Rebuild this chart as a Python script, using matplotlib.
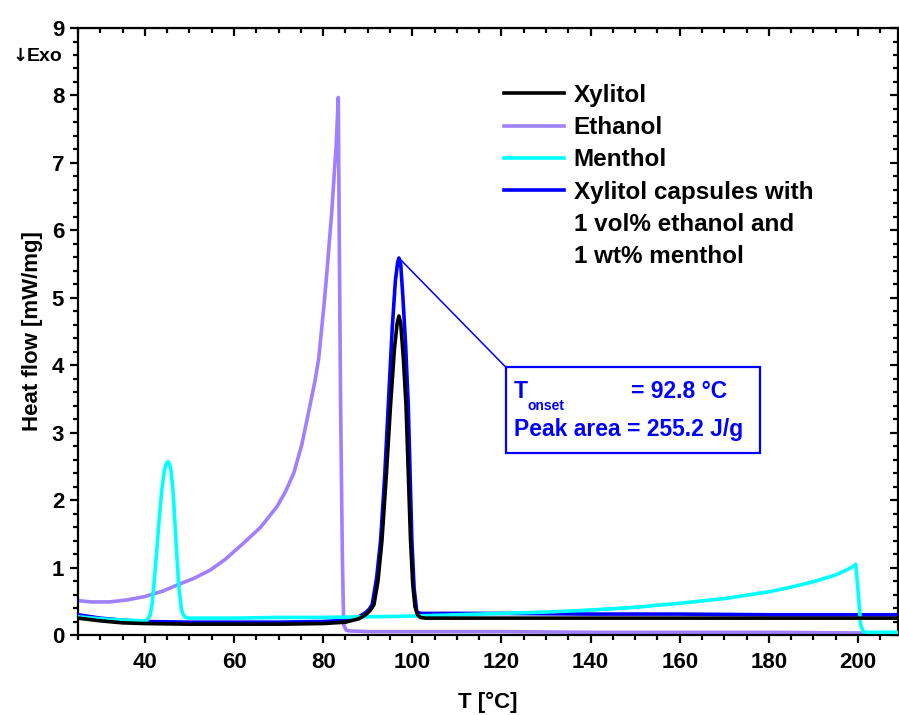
import matplotlib
matplotlib.use('Agg')
import matplotlib.pyplot as plt
from matplotlib.ticker import MultipleLocator
from matplotlib.patches import Rectangle

plt.rcParams['font.family'] = ['Liberation Sans', 'DejaVu Sans']
plt.rcParams['font.weight'] = 'bold'

# DSC heat flow curves, T in degC, heat flow in mW/mg
t_xyl = [25, 30, 35, 40, 50, 60, 70, 80, 85, 88, 89.5, 90.5, 91.4, 92.3, 93.2, 94.2, 95.1, 96.0,
         96.6, 97.0, 97.4, 98.0, 98.6, 99.1, 99.6, 100.1, 100.6, 101.2, 101.8, 103, 110, 120, 140,
         160, 180, 200, 209]
hf_xyl = [0.25, 0.21, 0.18, 0.17, 0.16, 0.16, 0.16, 0.17, 0.19, 0.24, 0.30, 0.36, 0.45, 0.80, 1.41,
          2.40, 3.39, 4.25, 4.62, 4.73, 4.62, 4.10, 3.39, 2.40, 1.41, 0.75, 0.42, 0.30, 0.26, 0.25,
          0.25, 0.25, 0.25, 0.25, 0.25, 0.25, 0.25]

t_eth = [25, 28, 32, 36, 40, 44, 47.2, 51, 54.6, 58, 62.1, 66, 69.6, 71.5, 73.4, 75.2, 77.0, 78.2,
         79.0, 80.2, 80.8, 81.3, 81.9, 82.4, 82.9, 83.4, 83.6, 83.9, 84.3, 84.6, 85.2, 86, 90, 100,
         120, 140, 160, 180, 200, 209]
hf_eth = [0.51, 0.49, 0.49, 0.52, 0.57, 0.65, 0.74, 0.84, 0.96, 1.12, 1.36, 1.60, 1.90, 2.12, 2.40,
          2.82, 3.39, 3.78, 4.10, 4.90, 5.35, 5.76, 6.25, 6.75, 7.24, 7.97, 6.00, 3.50, 1.20, 0.15,
          0.07, 0.06, 0.05, 0.05, 0.05, 0.04, 0.04, 0.04, 0.03, 0.03]

t_men = [25, 30, 35, 40, 40.5, 41.2, 41.6, 42.0, 42.6, 43.2, 43.8, 44.4, 44.8, 45.2, 45.6, 45.9,
         46.3, 46.7, 47.2, 47.6, 48.2, 48.6, 49.1, 50, 60, 70, 80, 90, 100, 110, 120, 130, 140, 150,
         160, 170, 180, 185, 190, 195, 197, 198.5, 199.5, 200.1, 200.6, 201.2, 202, 209]
hf_men = [0.27, 0.24, 0.22, 0.21, 0.22, 0.30, 0.45, 0.72, 1.20, 1.71, 2.15, 2.45, 2.54, 2.57, 2.52,
          2.42, 2.15, 1.71, 1.15, 0.72, 0.38, 0.30, 0.26, 0.25, 0.25, 0.26, 0.26, 0.27, 0.28, 0.30,
          0.32, 0.34, 0.37, 0.41, 0.47, 0.54, 0.64, 0.71, 0.79, 0.89, 0.95, 1.00, 1.05, 0.60, 0.15,
          0.05, 0.04, 0.04]

t_cap = [25, 30, 35, 40, 50, 60, 70, 80, 85, 88, 89.5, 90.3, 91.0, 92.0, 92.9, 93.8, 94.6, 95.5,
         96.2, 96.7, 97.0, 97.4, 97.9, 98.5, 99.1, 99.5, 99.9, 100.4, 101.0, 102, 110, 120, 140,
         160, 180, 200, 209]
hf_cap = [0.30, 0.25, 0.22, 0.20, 0.19, 0.19, 0.19, 0.20, 0.22, 0.27, 0.33, 0.38, 0.45, 0.85, 1.41,
          2.35, 3.39, 4.55, 5.25, 5.52, 5.59, 5.50, 5.00, 4.30, 3.39, 2.40, 1.41, 0.70, 0.34, 0.32,
          0.32, 0.32, 0.31, 0.31, 0.30, 0.30, 0.30]

labels = ['Xylitol', 'Ethanol', 'Menthol', 'Xylitol capsules with']
label_cont = ['1 vol% ethanol and', '1 wt% menthol']
colors = ['black', '#a080ff', '#00ffff', '#0000ff']

t_onset = 92.8
peak_area = 255.2

fig = plt.figure(figsize=(8.99, 7.15), dpi=100)
ax = fig.add_axes([0.0868, 0.1119, 0.9122, 0.8489])

lw = 2.6
ax.plot(t_xyl, hf_xyl, color=colors[0], lw=lw, label=labels[0], zorder=5)
ax.plot(t_eth, hf_eth, color=colors[1], lw=lw, label=labels[1], zorder=2)
ax.plot(t_men, hf_men, color=colors[2], lw=lw, label=labels[2], zorder=4)
ax.plot(t_cap, hf_cap, color=colors[3], lw=lw, label=labels[3], zorder=3)

ax.set_xlim(25, 209)
ax.set_ylim(0, 9)
ax.xaxis.set_major_locator(MultipleLocator(20))
ax.xaxis.set_minor_locator(MultipleLocator(5))
ax.yaxis.set_major_locator(MultipleLocator(1))
ax.yaxis.set_minor_locator(MultipleLocator(0.2))
ax.tick_params(which='both', direction='out', width=1.6, labelsize=16)
ax.tick_params(which='major', length=6)
ax.tick_params(which='minor', length=3.5)
ax.tick_params(axis='x', pad=6)
ax.tick_params(axis='y', pad=4)
for s in ax.spines.values():
    s.set_linewidth(1.6)

# inward ticks on top and right
top = ax.secondary_xaxis('top')
top.xaxis.set_major_locator(MultipleLocator(20))
top.xaxis.set_minor_locator(MultipleLocator(5))
top.tick_params(which='both', direction='in', width=1.6, labeltop=False)
top.tick_params(which='major', length=6)
top.tick_params(which='minor', length=3.5)
right = ax.secondary_yaxis('right')
right.yaxis.set_major_locator(MultipleLocator(1))
right.yaxis.set_minor_locator(MultipleLocator(0.2))
right.tick_params(which='both', direction='in', width=1.6, labelright=False)
right.tick_params(which='major', length=6)
right.tick_params(which='minor', length=3.5)

ax.set_xlabel('T [°C]', fontsize=16, fontweight='bold', labelpad=14)
ax.set_ylabel('Heat flow [mW/mg]', fontsize=16, fontweight='bold', labelpad=6)

ax.text(-0.062, 8.58, '↓', transform=ax.get_yaxis_transform(), ha='right', va='center',
        fontsize=13, fontweight='bold', family='DejaVu Sans')
ax.text(-0.019, 8.58, 'Exo', transform=ax.get_yaxis_transform(), ha='right', va='center',
        fontsize=14, fontweight='bold')

leg = ax.legend(loc='upper left', bbox_to_anchor=(0.52, 0.908), frameon=False, fontsize=17.5,
                handlelength=2.45, handletextpad=0.4, labelspacing=0.38, borderpad=0,
                borderaxespad=0)
for h in leg.get_lines():
    h.set_linewidth(2.6)

# remaining lines of the capsule label, set under its first line
fig.canvas.draw()
bb = leg.get_texts()[3].get_window_extent()
step = 32
for k, line in enumerate(label_cont, start=1):
    fig.text(bb.x0, bb.y0 - k * step, line, transform=None, fontsize=17.5, fontweight='bold',
             ha='left', va='bottom')

# onset / enthalpy box linked to the capsule melting peak
ipk = hf_cap.index(max(hf_cap))
box_l, box_r, box_t, box_b = 121.0, 178.0, 3.97, 2.70
ax.plot([t_cap[ipk], box_l], [hf_cap[ipk], box_t], color='#0000ff', lw=1.1, zorder=6)
ax.add_patch(Rectangle((box_l, box_b), box_r - box_l, box_t - box_b, facecolor='white',
                       edgecolor='#0000ff', lw=1.6, zorder=7))
ax.text(122.8, 3.61, 'T', color='#0000ff', fontsize=16.5, fontweight='bold', va='center', zorder=8)
ax.text(125.9, 3.40, 'onset', color='#0000ff', fontsize=10, fontweight='bold', va='center', zorder=8)
ax.text(149.0, 3.61, f'= {t_onset} °C', color='#0000ff', fontsize=16.5, fontweight='bold',
        va='center', zorder=8)
ax.text(122.8, 3.04, f'Peak area = {peak_area} J/g', color='#0000ff', fontsize=16.5,
        fontweight='bold', va='center', zorder=8)

fig.savefig('out.png', dpi=100)
